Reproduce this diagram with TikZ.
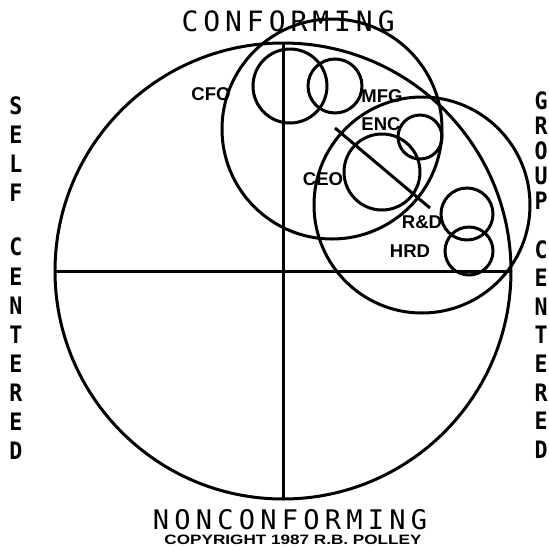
\documentclass[tikz,border=0pt]{standalone}
\usepackage{fontspec}
\usepackage{graphicx}
\setmainfont{Liberation Sans}
\newfontfamily\plotmono{DejaVu Sans Mono}
\begin{document}
\begin{tikzpicture}[x=1pt,y=-1pt,
  ring/.style={circle, draw, line width=3pt, inner sep=0pt, outer sep=0pt},
  axisline/.style={line width=3pt},
  ttl/.style={font=\plotmono\fontsize{28}{28}\selectfont, inner sep=0pt, anchor=base},
  vlet/.style={font=\plotmono\bfseries\fontsize{24}{24}\selectfont, inner sep=0pt, anchor=base},
  lbl/.style={font=\fontsize{18.5}{18.5}\selectfont\bfseries, inner sep=0pt, anchor=base},
  copy/.style={font=\bfseries, inner sep=0pt, anchor=base}]
\useasboundingbox (0,0) rectangle (549,550);
% circles
\node[ring, minimum size=456pt] (main) at (283,271) {};
\node[ring, minimum size=220pt] (conf) at (332,129) {};
\node[ring, minimum size=216pt] (grp) at (422,205) {};
\node[ring, minimum size=74pt] (cfoc) at (290,86) {};
\node[ring, minimum size=54pt] (mfgc) at (335,86) {};
\node[ring, minimum size=44pt] (encc) at (420,137) {};
\node[ring, minimum size=76pt] (ceoc) at (382,172) {};
\node[ring, minimum size=52pt] (rdc) at (467,214) {};
\node[ring, minimum size=48pt] (hrdc) at (469,251) {};
% axes
\draw[axisline] (main.north) -- (main.south);
\draw[axisline] (main.west) -- (main.east);
% diagonal
\coordinate (d1) at (335,128);
\coordinate (d2) at (430,208);
\draw[axisline] (d1) -- (d2);
% labels
\node[lbl] (cfo) at (211,100) {CFO};
\node[lbl] (mfg) at (382,102) {MFG};
\node[lbl] (enc) at (381,130) {ENC};
\node[lbl] (ceo) at (323,185) {CEO};
\node[lbl] (rd) at (422,228) {R\&D};
\node[lbl] (hrd) at (410,257) {HRD};
% titles
\foreach \c [count=\i] in {C,O,N,F,O,R,M,I,N,G}
  \node[ttl] (cf\i) at ({190+(\i-1)*21.8},31) {\c};
\foreach \c [count=\i] in {N,O,N,C,O,N,F,O,R,M,I,N,G}
  \node[ttl, font=\plotmono\fontsize{27}{27}\selectfont] (nc\i) at ({161+(\i-1)*21.5},529) {\c};
\node[copy] (cpy) at (293,544.5) {\resizebox{257pt}{9.5pt}{COPYRIGHT 1987 R.B. POLLEY}};
% vertical words
\foreach \c/\y [count=\i] in {S/105,E/134,L/163,F/192,C/246,E/276,N/305,T/334,E/363,R/392,E/421,D/450}
  \node[vlet] (sc\i) at (16,{\y+9}) {\scalebox{0.9}[1]{\c}};
\foreach \c/\y [count=\i] in {G/100,R/125,O/150,U/175,P/200,C/249,E/277,N/306,T/334,E/363,R/392,E/420,D/449}
  \node[vlet] (gc\i) at (541,{\y+9}) {\scalebox{0.9}[1]{\c}};
\end{tikzpicture}
\end{document}
